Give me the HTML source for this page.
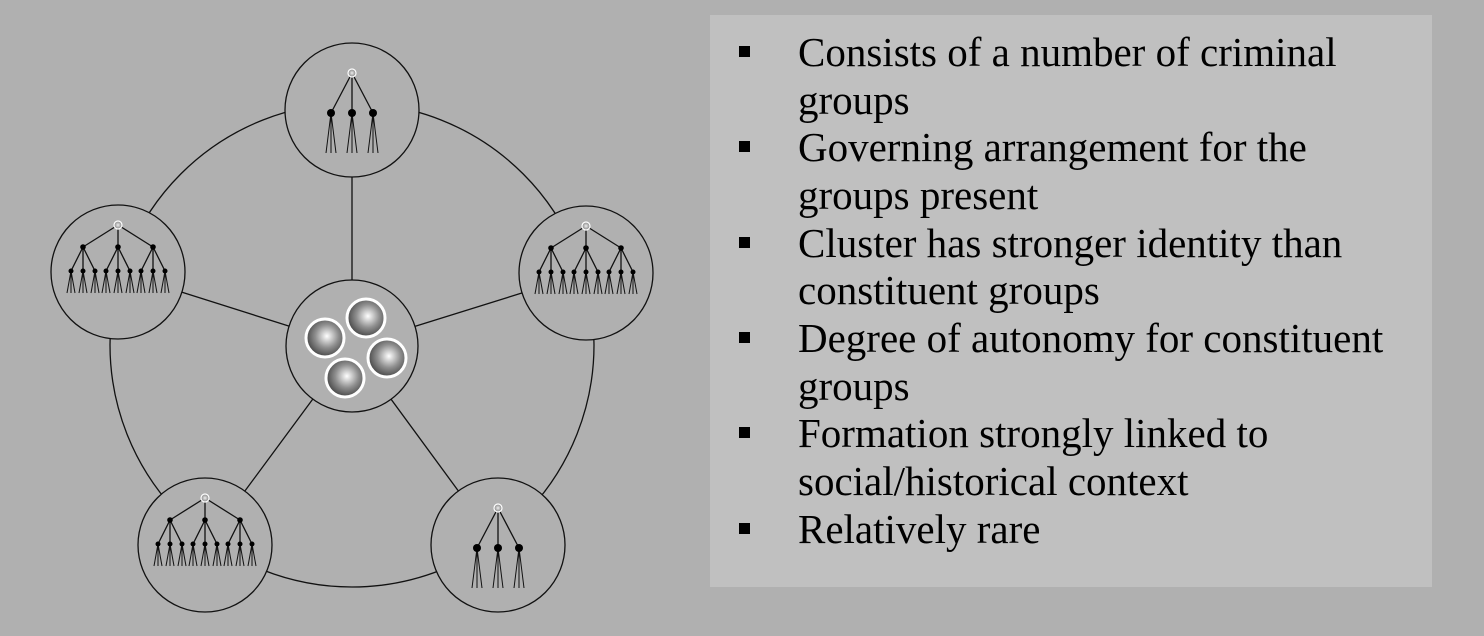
<!DOCTYPE html>
<html><head><meta charset="utf-8"><style>
html,body{margin:0;padding:0;background:#b0b0b0;width:1484px;height:636px;overflow:hidden}
svg{display:block}
</style></head><body>
<svg id="s" width="1484" height="636" xmlns="http://www.w3.org/2000/svg">
<defs>
<radialGradient id="sph" cx="0.55" cy="0.45" r="0.6">
<stop offset="0" stop-color="#ffffff"/><stop offset="0.5" stop-color="#909090"/><stop offset="1" stop-color="#3a3a3a"/>
</radialGradient>
<radialGradient id="rt" cx="0.5" cy="0.5" r="0.5">
<stop offset="0" stop-color="#eeeeee"/><stop offset="1" stop-color="#808080"/>
</radialGradient>
</defs>
<rect width="1484" height="636" fill="#b0b0b0"/>
<rect x="710" y="15" width="722" height="572" fill="#c0c0c0"/>
<g stroke="#111" stroke-width="1.3" fill="none">
<circle cx="352" cy="345" r="242"/>
<line x1="352" y1="346" x2="352" y2="110"/>
<line x1="352" y1="346" x2="118" y2="272"/>
<line x1="352" y1="346" x2="586" y2="273"/>
<line x1="352" y1="346" x2="205" y2="545"/>
<line x1="352" y1="346" x2="498" y2="545"/>
</g>
<g stroke="#111" stroke-width="1.3" fill="#b0b0b0">
<circle cx="352" cy="110" r="67"/>
<circle cx="118" cy="272" r="67"/>
<circle cx="586" cy="273" r="67"/>
<circle cx="205" cy="545" r="67"/>
<circle cx="498" cy="545" r="67"/>
<circle cx="352" cy="346" r="66"/>
</g>
<g stroke="#fff" stroke-width="3" fill="url(#sph)">
<circle cx="325" cy="338" r="19"/>
<circle cx="366" cy="318" r="19"/>
<circle cx="387" cy="358" r="19"/>
<circle cx="345" cy="378" r="19"/>
</g>
<g id="trees"></g>
<g font-family="'Liberation Serif',serif" font-size="41" fill="#000">
<text x="798" y="66">Consists of a number of criminal</text>
<text x="798" y="114">groups</text>
<text x="798" y="161">Governing arrangement for the</text>
<text x="798" y="209">groups present</text>
<text x="798" y="257">Cluster has stronger identity than</text>
<text x="798" y="304">constituent groups</text>
<text x="798" y="352">Degree of autonomy for constituent</text>
<text x="798" y="400">groups</text>
<text x="798" y="447">Formation strongly linked to</text>
<text x="798" y="495">social/historical context</text>
<text x="798" y="543">Relatively rare</text>
</g>
<g fill="#000">
<rect x="739" y="46" width="11" height="11"/>
<rect x="739" y="141" width="11" height="11"/>
<rect x="739" y="237" width="11" height="11"/>
<rect x="739" y="332" width="11" height="11"/>
<rect x="739" y="427" width="11" height="11"/>
<rect x="739" y="523" width="11" height="11"/>
</g>
</svg>
<script>
var g=document.getElementById('trees'),h='';
function L(a,b,c,d,w){h+='<line x1="'+a+'" y1="'+b+'" x2="'+c+'" y2="'+d+'" stroke="#111" stroke-width="'+(w||1.3)+'"/>';}
function D(x,y,r){h+='<circle cx="'+x+'" cy="'+y+'" r="'+r+'" fill="#000"/>';}
function R(x,y){h+='<circle cx="'+x+'" cy="'+y+'" r="4" fill="url(#rt)" stroke="#fff" stroke-width="1.2"/>';}
function legs(x,y,y2,s){L(x,y,x-s,y2,1);L(x,y,x,y2,1);L(x,y,x+s,y2,1);}
function small(cx,cy){var ry=cy-37,ny=cy+3;
 [-21,0,21].forEach(function(o){L(cx,ry,cx+o,ny);legs(cx+o,ny,cy+43,5);D(cx+o,ny,4);});R(cx,ry);}
function big(cx,cy){var ry=cy-47,y2=cy-25,y3=cy-1;
 [-35,0,35].forEach(function(o){L(cx,ry,cx+o,y2);[-12,0,12].forEach(function(p){L(cx+o,y2,cx+o+p,y3);legs(cx+o+p,y3,cy+21,4);D(cx+o+p,y3,2.5);});D(cx+o,y2,2.8);});R(cx,ry);}
small(352,110);small(498,545);big(118,272);big(586,273);big(205,545);
g.innerHTML=h;
</script>
</body></html>
